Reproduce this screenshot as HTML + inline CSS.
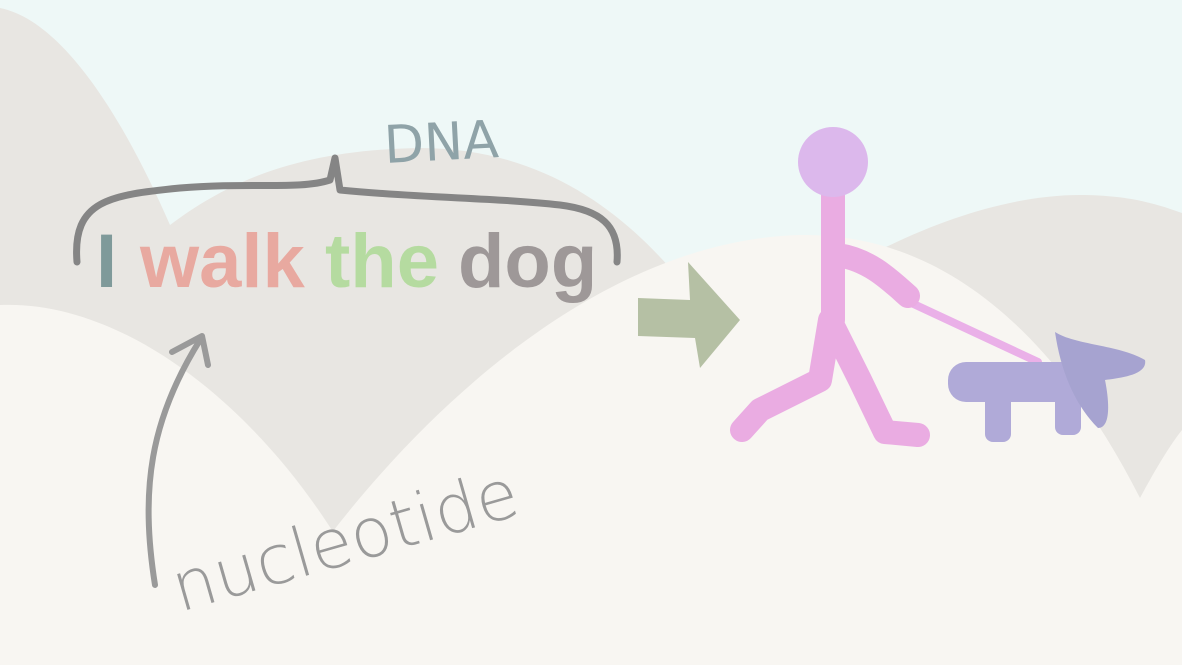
<!DOCTYPE html>
<html><head><meta charset="utf-8"><style>
html,body{margin:0;padding:0;width:1182px;height:665px;overflow:hidden;background:#eef8f7}
svg{display:block}
</style></head><body>
<svg width="1182" height="665" viewBox="0 0 1182 665" xmlns="http://www.w3.org/2000/svg">
<rect x="0" y="0" width="1182" height="665" fill="#eef8f7"/>
<path fill="#e8e6e2" d="M0,8 C60,20 120,110 170,225 C230,180 300,150 420,148 C530,148 610,200 670,268 L670,665 L0,665 Z"/>
<path fill="#e8e6e2" d="M880,250 C950,215 1020,195 1080,195 C1130,195 1160,205 1182,213 L1182,665 L880,665 Z"/>
<path fill="#f8f6f2" d="M0,305 C120,300 250,400 335,535 L335,665 L0,665 Z"/>
<path fill="#f8f6f2" d="M330,535 C450,380 620,240 800,235 C960,232 1070,360 1140,498 C1155,470 1170,445 1182,430 L1182,665 L330,665 Z"/>
<g font-family="Liberation Sans, sans-serif" font-weight="bold" font-size="76">
<text x="96" y="287" fill="#7f9a9a">I</text>
<text x="140" y="287" fill="#e8a9a0">walk</text>
<text x="325" y="287" fill="#b5dba0">the</text>
<text x="458" y="287" fill="#9e9898">dog</text>
</g>
<path fill="none" stroke="#858585" stroke-width="7" stroke-linecap="round" stroke-linejoin="round" d="M77,262 C72,200 110,195 180,188 C250,182 300,190 330,180 L335,158 L340,190 C420,198 500,198 560,205 C600,210 620,225 617,262"/>
<text x="385" y="163" font-family="DejaVu Sans, sans-serif" font-size="52" fill="#8fa3a8" transform="rotate(-3 385 163)">DNA</text>
<path fill="none" stroke="#9a9a9a" stroke-width="6" stroke-linecap="round" stroke-linejoin="round" d="M155,585 C140,490 150,420 200,340 M172,352 L202,336 L208,365"/>
<text x="180" y="612" font-family="DejaVu Sans, sans-serif" font-weight="300" font-size="68" fill="#9a9a9a" transform="rotate(-16 180 612)">nucleotide</text>
<path fill="#b5c0a4" d="M638,298 L690,300 L688,262 L740,320 L700,368 L695,338 L638,336 Z"/>
<g stroke-linecap="round" stroke-linejoin="round" fill="none">
<path stroke="#eab0e8" stroke-width="8" d="M905,300 L1038,362"/>
<path stroke="#eaace2" stroke-width="24" d="M833,195 L833,320 M838,255 C870,260 890,280 908,296 M830,320 L820,380 L760,410 L742,430 M830,320 L860,380 L885,432 L918,435"/>
<circle cx="833" cy="162" r="35" fill="#dcb8ec" stroke="none"/>
</g>
<g fill="#b0aad8">
<rect x="948" y="362" width="140" height="40" rx="18"/>
<rect x="985" y="390" width="26" height="52" rx="8"/>
<rect x="1055" y="390" width="26" height="45" rx="8"/>
<path fill="#a6a3d0" d="M1055,332 C1075,345 1120,345 1145,360 C1148,375 1120,378 1105,380 C1110,405 1110,428 1098,428 C1080,410 1062,380 1055,332 Z"/>
</g>
</svg>
</body></html>
